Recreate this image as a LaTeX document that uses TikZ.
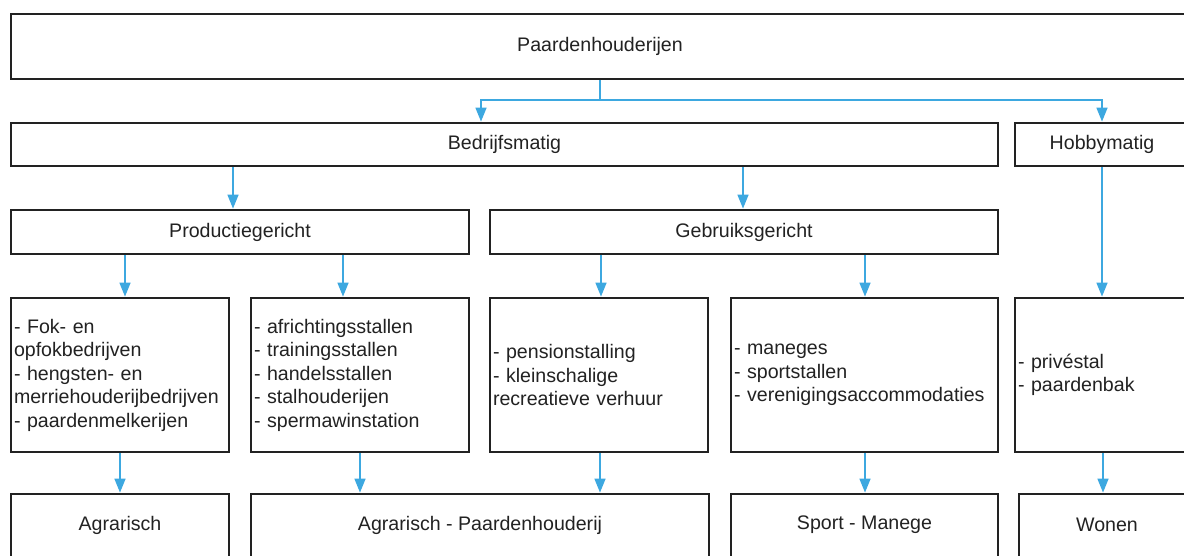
\documentclass[tikz,border=0pt]{standalone}
\usepackage{fontspec}
\setmainfont{Liberation Sans}
\usetikzlibrary{arrows.meta}
\definecolor{arrblue}{HTML}{3DA8E0}
\definecolor{boxline}{HTML}{222222}
\definecolor{txt}{HTML}{222222}
\tikzset{
  box/.style={draw=boxline, line width=1.8pt, fill=white, text=txt, inner sep=0pt,
              font=\fontsize{19.6}{23.5}\selectfont},
  listbox/.style={box, align=left, inner xsep=3pt, text width=#1},
  lbl/.style={text=txt, font=\fontsize{19.6}{23.5}\selectfont},
  conn/.style={draw=arrblue, line width=1.6pt},
  arr/.style={conn, -{Triangle[length=14pt,width=11pt]}, shorten >=0.5pt},
}
\begin{document}
\begin{tikzpicture}[x=1pt,y=-1pt]
\useasboundingbox (0,0) rectangle (1184,556);
\clip (0,0) rectangle (1184,556);

% level 1
\node[box, minimum width=1178pt, minimum height=65pt] (top) at (600,46.5) {\raisebox{2.5pt}{Paardenhouderijen}};
% level 2
\node[box, minimum width=987pt, minimum height=43pt] (bedr) at (504.5,144.5) {\raisebox{2.5pt}{Bedrijfsmatig}};
\node[box, minimum width=174pt, minimum height=43pt] (hobby) at (1102,144.5) {\raisebox{2.5pt}{Hobbymatig}};
% level 3
\node[box, minimum width=458pt, minimum height=44pt] (prod) at (240,232) {\raisebox{2pt}{Productiegericht}};
\node[box, minimum width=508pt, minimum height=44pt] (gebr) at (744,232) {\raisebox{2pt}{Gebruiksgericht}};
% level 4
\node[listbox=212pt, minimum height=154pt] (b1) at (120,375) {- Fok- en\\opfokbedrijven\\- hengsten- en\\merriehouderijbedrijven\\- paardenmelkerijen\\[4pt]};
\node[listbox=212pt, minimum height=154pt] (b2) at (360,375) {- africhtingsstallen\\- trainingsstallen\\- handelsstallen\\- stalhouderijen\\- spermawinstation\\[4pt]};
\node[listbox=212pt, minimum height=154pt] (b3) at (599,375) {- pensionstalling\\- kleinschalige\\recreatieve verhuur\\[1pt]};
\node[listbox=261pt, minimum height=154pt] (b4) at (864.5,375) {- maneges\\- sportstallen\\- verenigingsaccommodaties\\[0pt]};
\node[listbox=168pt, minimum height=154pt] (b5) at (1102,375) {- privéstal\\- paardenbak\\[4pt]};
% level 5
\node[box, minimum width=218pt, minimum height=124pt] (c1) at (120,556) {};
\node[box, minimum width=458pt, minimum height=124pt] (c2) at (480,556) {};
\node[box, minimum width=267pt, minimum height=124pt] (c3) at (864.5,556) {};
\node[box, minimum width=176pt, minimum height=124pt] (c4) at (1107,556) {};
\node[lbl] (t1) at (120,525) {Agrarisch};
\node[lbl] (t2) at (480,525) {Agrarisch - Paardenhouderij};
\node[lbl] (t3) at (864.5,525) {Sport - Manege};
\node[lbl] (t4) at (1107,525) {Wonen};

% connectors
\coordinate (split) at (600,100);
\draw[conn] (top.south) -- (split);
\draw[arr] (split) -| (bedr.north -| 481,0);
\draw[arr] (split) -| (hobby.north);

\draw[arr] (bedr.south -| 233,0) -- (prod.north -| 233,0);
\draw[arr] (bedr.south -| 743,0) -- (gebr.north -| 743,0);

\draw[arr] (prod.south -| 125,0) -- (b1.north -| 125,0);
\draw[arr] (prod.south -| 343,0) -- (b2.north -| 343,0);
\draw[arr] (gebr.south -| 601,0) -- (b3.north -| 601,0);
\draw[arr] (gebr.south -| 865,0) -- (b4.north -| 865,0);
\draw[arr] (hobby.south) -- (b5.north);

\draw[arr] (b1.south) -- (c1.north);
\draw[arr] (b2.south) -- (c2.north -| b2.south);
\draw[arr] (b3.south -| 600,0) -- (c2.north -| 600,0);
\draw[arr] (b4.south -| 865,0) -- (c3.north -| 865,0);
\draw[arr] (b5.south -| 1103,0) -- (c4.north -| 1103,0);
\end{tikzpicture}
\end{document}
